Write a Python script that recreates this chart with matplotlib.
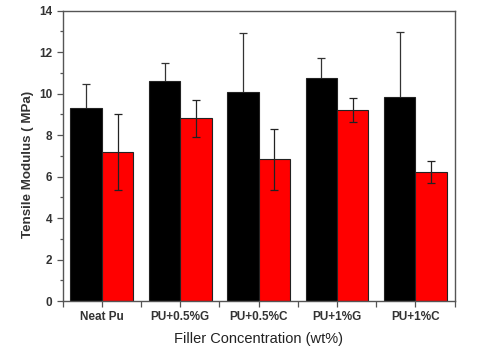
import numpy as np
import matplotlib.pyplot as plt
from matplotlib.ticker import MultipleLocator

plt.rcParams['font.family'] = ['Liberation Sans', 'DejaVu Sans']

categories = ['Neat Pu', 'PU+0.5%G', 'PU+0.5%C', 'PU+1%G', 'PU+1%C']
black_vals = [9.31, 10.59, 10.08, 10.77, 9.85]
black_err = [1.17, 0.87, 2.82, 0.95, 3.14]
red_vals = [7.20, 8.81, 6.83, 9.21, 6.20]
red_err = [1.83, 0.90, 1.48, 0.56, 0.53]

x = np.arange(1, len(categories) + 1)
w = 0.4

fig = plt.figure(figsize=(4.82, 3.62), dpi=100)
ax = fig.add_axes([0.130, 0.1685, 0.813, 0.802])

# black bars hide the lower half of their error bars
ax.bar(x - w / 2, black_vals, w, color='black', edgecolor='#222222', linewidth=0.8,
       yerr=black_err, zorder=2,
       error_kw=dict(ecolor='#333333', elinewidth=0.9, capsize=3, capthick=0.9, zorder=1))
ax.bar(x + w / 2, red_vals, w, color='#ff0000', edgecolor='#222222', linewidth=0.8,
       yerr=red_err, zorder=2,
       error_kw=dict(ecolor='#222222', elinewidth=0.9, capsize=3, capthick=0.9, zorder=3))

ax.set_xlim(0.5, 5.5)
ax.set_ylim(0, 14)
ax.set_xticks(x)
ax.set_xticklabels(categories)
ax.xaxis.set_minor_locator(MultipleLocator(1, offset=0.5))
ax.yaxis.set_major_locator(MultipleLocator(2))
ax.yaxis.set_minor_locator(MultipleLocator(1))

for s in ax.spines.values():
    s.set_color('#555555')
    s.set_linewidth(1.0)
    s.set_zorder(4)

ax.tick_params(which='major', direction='out', length=4, width=0.9, color='#555555',
               labelsize=8.5, labelcolor='#333333')
ax.tick_params(which='minor', direction='out', length=2.5, width=0.9, color='#555555')
ax.tick_params(axis='x', which='minor', length=4)
for lab in ax.get_xticklabels() + ax.get_yticklabels():
    lab.set_fontweight('bold')

ax.set_xlabel('Filler Concentration (wt%)', fontsize=10.5, color='#222222', labelpad=6)
ax.set_ylabel('Tensile Modulus ( MPa)', fontsize=9.6, color='#333333',
              fontweight='bold')
ax.yaxis.set_label_coords(-0.074, 0.47)

fig.savefig('out.png', dpi=100)
